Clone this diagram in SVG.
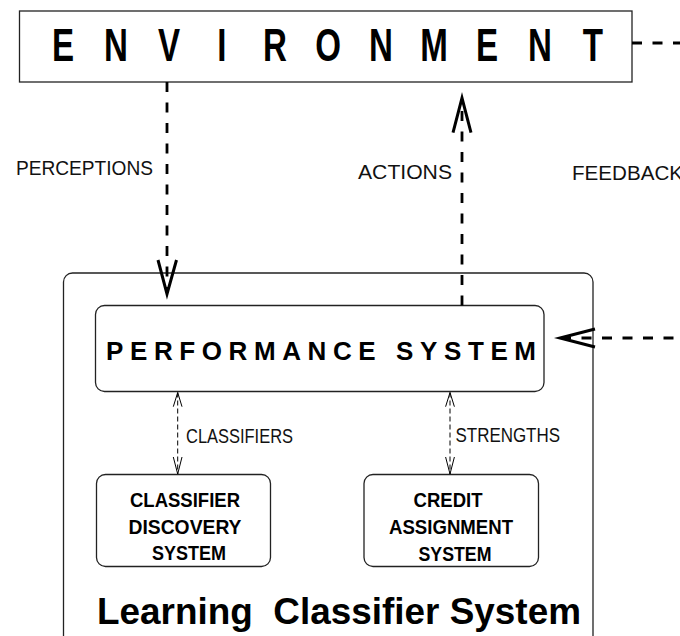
<svg xmlns="http://www.w3.org/2000/svg" width="680" height="636" viewBox="0 0 680 636">
<style>
.box{fill:#fff;stroke:#222;stroke-width:1.3}
.big{fill:none;stroke:#000;stroke-width:2.8;stroke-dasharray:10 10.5}
.head{fill:none;stroke:#000;stroke-width:3;stroke-linejoin:miter;stroke-miterlimit:12}
.small{fill:none;stroke:#000;stroke-width:1;stroke-dasharray:5 3}
.shead{fill:none;stroke:#000;stroke-width:1;stroke-miterlimit:12}
.lbl{font-family:"Liberation Sans",Arial,sans-serif;font-size:20px;fill:#111}
.b{font-family:"Liberation Sans",Arial,sans-serif;font-weight:bold;fill:#000}
</style>
<rect width="680" height="636" fill="#fff"/>
<g id="lcs">
<rect class="box" x="63.5" y="273" width="529.5" height="420" rx="9"/>
<text class="b" x="97" y="624" font-size="37" textLength="484" lengthAdjust="spacingAndGlyphs" xml:space="preserve">Learning  Classifier System</text>
</g>
<g id="performance">
<rect class="box" x="95.5" y="305.5" width="448.5" height="86" rx="9"/>
<text class="b" x="106" y="360" font-size="26" letter-spacing="6.6">PERFORMANCE SYSTEM</text>
</g>
<g id="discovery">
<rect class="box" x="96.5" y="474.5" width="174" height="92" rx="9"/>
<text class="b" font-size="20" text-anchor="middle" x="185" y="507" textLength="110" lengthAdjust="spacingAndGlyphs">CLASSIFIER</text>
<text class="b" font-size="20" text-anchor="middle" x="185" y="533.5" textLength="113" lengthAdjust="spacingAndGlyphs">DISCOVERY</text>
<text class="b" font-size="20" text-anchor="middle" x="189" y="560" textLength="74" lengthAdjust="spacingAndGlyphs">SYSTEM</text>
</g>
<g id="credit">
<rect class="box" x="364" y="474.5" width="174.5" height="92" rx="9"/>
<text class="b" font-size="20" text-anchor="middle" x="448" y="507" textLength="69" lengthAdjust="spacingAndGlyphs">CREDIT</text>
<text class="b" font-size="20" text-anchor="middle" x="451" y="534" textLength="124" lengthAdjust="spacingAndGlyphs">ASSIGNMENT</text>
<text class="b" font-size="20" text-anchor="middle" x="455" y="560.5" textLength="73" lengthAdjust="spacingAndGlyphs">SYSTEM</text>
</g>
<g id="environment">
<rect class="box" x="19.5" y="11" width="612.5" height="71"/>
<text class="b" font-size="46" text-anchor="middle" transform="scale(0.72,1)" x="87.5 161.1 234.7 308.3 381.9 455.6 529.2 602.8 676.4 750 823.6" y="61">ENVIRONMENT</text>
</g>
<g id="connectors">
<path class="big" d="M167,82 V292"/>
<polyline class="head" points="158,260 167,294 176.5,260"/>
<text class="lbl" x="16" y="175" textLength="137" lengthAdjust="spacingAndGlyphs">PERCEPTIONS</text>
<path class="big" d="M462,305.5 V100"/>
<polyline class="head" points="453,132.7 462,98 471,132.7"/>
<text class="lbl" x="358" y="179" textLength="94" lengthAdjust="spacingAndGlyphs">ACTIONS</text>
<path class="big" d="M632,43 H700 V338 H562"/>
<polyline class="head" points="595,329 560,338 595,347"/>
<text class="lbl" x="572" y="180" textLength="111" lengthAdjust="spacingAndGlyphs">FEEDBACK</text>
<path class="small" d="M177.7,392.5 V474"/>
<polyline class="shead" points="173.3,406.7 177.7,392.5 182,406.7"/>
<polyline class="shead" points="173.3,457 177.7,474 182,457"/>
<text class="lbl" x="186" y="443" textLength="107" lengthAdjust="spacingAndGlyphs">CLASSIFIERS</text>
<path class="small" d="M450,392.5 V474"/>
<polyline class="shead" points="445.6,406.7 450,392.5 454.4,406.7"/>
<polyline class="shead" points="445.6,457 450,474 454.4,457"/>
<text class="lbl" x="455.5" y="442" textLength="104.5" lengthAdjust="spacingAndGlyphs">STRENGTHS</text>
</g>
</svg>
